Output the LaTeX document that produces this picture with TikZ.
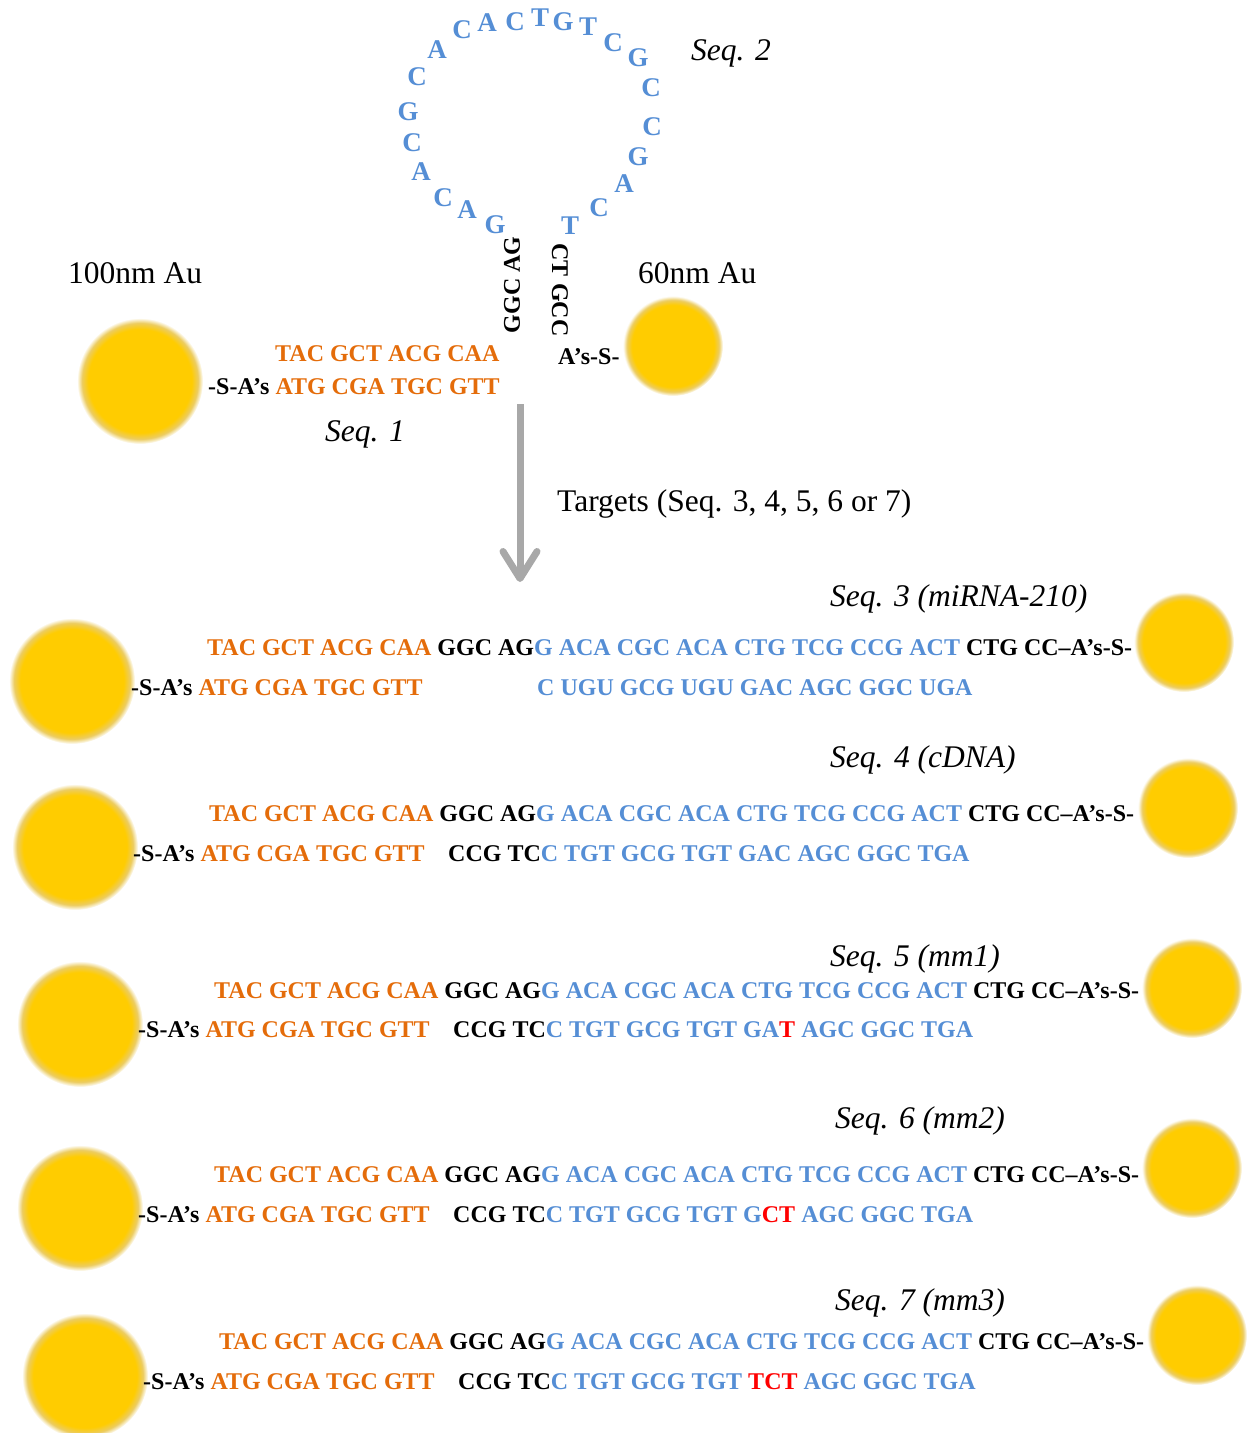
\documentclass[tikz,border=0pt]{standalone}
\usepackage{fontspec}
\setmainfont{Liberation Serif}
\usetikzlibrary{arrows.meta}

\definecolor{dnaorange}{RGB}{228,108,10}
\definecolor{dnablue}{RGB}{85,142,213}
\definecolor{dnared}{RGB}{255,0,0}
\definecolor{aucore}{RGB}{255,204,0}
\definecolor{aurim}{RGB}{236,204,96}
\definecolor{arrowgray}{RGB}{168,168,168}

% soft-edged gold nanoparticle (25bp = edge of the shaded path)
\pgfdeclareradialshading{goldball}{\pgfpoint{0bp}{0bp}}{%
  color(0bp)=(aucore);color(20.5bp)=(aucore);color(23bp)=(aurim);
  color(25bp)=(white);color(50bp)=(white)}

\newcommand\ntO[1]{\textcolor{dnaorange}{#1}}
\newcommand\ntB[1]{\textcolor{dnablue}{#1}}
\newcommand\ntR[1]{\textcolor{dnared}{#1}}

\begin{document}
\begin{tikzpicture}[x=1pt,y=-1pt,
  auball/.style={circle,shading=goldball,inner sep=0pt,draw=none},
  bigau/.style={auball,minimum size=126pt},
  smallau/.style={auball,minimum size=100pt},
  nt/.style={font=\fontsize{24}{28}\selectfont\bfseries,inner sep=0pt,anchor=base west},
  loopnt/.style={font=\fontsize{27}{30}\selectfont\bfseries,text=dnablue,inner sep=0pt},
  stemnt/.style={font=\fontsize{24}{28}\selectfont\bfseries,inner sep=0pt},
  seqlabel/.style={font=\fontsize{31.5}{36}\selectfont\itshape,inner sep=0pt,anchor=base west},
  plainlabel/.style={font=\fontsize{31.5}{36}\selectfont,inner sep=0pt,anchor=base west}]
\useasboundingbox (0,0) rectangle (1248,1433);

% ---------- probe: hairpin between two gold particles ----------
\node[bigau] (auL) at (140,381) {};
\node[smallau] (auR) at (673,346) {};
\node[plainlabel] (lab100) at (68,283) {100nm Au};
\node[plainlabel] (lab60) at (638,283) {60nm Au};
\node[seqlabel] (seq1) at (325,441) {Seq. 1};
\node[seqlabel] (seq2) at (691,60) {Seq. 2};

\node[nt,text=dnaorange] (p1top) at (275,361) {TAC GCT ACG CAA};
\node[nt] (p1bot) at (208,394) {-S-A’s \ntO{ATG CGA TGC GTT}};
\node[nt] (p2link) at (558,364) {A’s-S-};

\node[stemnt,rotate=90] (stemL) at (512,285) {GGC AG};
\node[stemnt,rotate=-90] (stemR) at (560,290) {CT GCC};

% loop bases
\node[loopnt] (l1) at (495,225) {G};
\node[loopnt] (l2) at (467,210) {A};
\node[loopnt] (l3) at (443,198) {C};
\node[loopnt] (l4) at (421,172) {A};
\node[loopnt] (l5) at (412,143) {C};
\node[loopnt] (l6) at (408,112) {G};
\node[loopnt] (l7) at (417,77) {C};
\node[loopnt] (l8) at (437,50) {A};
\node[loopnt] (l9) at (462,30) {C};
\node[loopnt] (l10) at (487,23) {A};
\node[loopnt] (l11) at (515,22) {C};
\node[loopnt] (l12) at (540,18) {T};
\node[loopnt] (l13) at (563,22) {G};
\node[loopnt] (l14) at (588,27) {T};
\node[loopnt] (l15) at (613,43) {C};
\node[loopnt] (l16) at (638,58) {G};
\node[loopnt] (l17) at (651,88) {C};
\node[loopnt] (l18) at (652,127) {C};
\node[loopnt] (l19) at (638,157) {G};
\node[loopnt] (l20) at (624,184) {A};
\node[loopnt] (l21) at (599,208) {C};
\node[loopnt] (l22) at (570,226) {T};

% ---------- arrow ----------
\coordinate (arrtop) at (520,404);
\coordinate (arrtip) at (520,582);
\draw[arrowgray,line width=7pt,
  -{Straight Barb[length=27pt,width=34pt,line cap=round,line join=round]}]
  (arrtop) -- (arrtip);
\node[plainlabel] (targets) at (557,511) {Targets (Seq. 3, 4, 5, 6 or 7)};

% ---------- Seq. 3 ----------
\node[seqlabel] (lab3) at (830,606) {Seq. 3 (miRNA-210)};
\node[bigau] (au3L) at (72,681) {};
\node[smallau] (au3R) at (1184,642) {};
\node[nt] (r3top) at (207,655) {\ntO{TAC GCT ACG CAA} GGC AG\ntB{G ACA CGC ACA CTG TCG CCG ACT} CTG CC\textendash A’s-S-};
\node[nt] (r3bot) at (131,695) {-S-A’s \ntO{ATG CGA TGC GTT}};
\node[nt,text=dnablue] (r3tgt) at (537,695) {C UGU GCG UGU GAC AGC GGC UGA};

% ---------- Seq. 4 ----------
\node[seqlabel] (lab4) at (830,767) {Seq. 4 (cDNA)};
\node[bigau] (au4L) at (75,847) {};
\node[smallau] (au4R) at (1188,808) {};
\node[nt] (r4top) at (209,821) {\ntO{TAC GCT ACG CAA} GGC AG\ntB{G ACA CGC ACA CTG TCG CCG ACT} CTG CC\textendash A’s-S-};
\node[nt] (r4bot) at (133,861) {-S-A’s \ntO{ATG CGA TGC GTT}};
\node[nt] (r4tgt) at (448,861) {CCG TC\ntB{C TGT GCG TGT GAC AGC GGC TGA}};

% ---------- Seq. 5 ----------
\node[seqlabel] (lab5) at (830,966) {Seq. 5 (mm1)};
\node[bigau] (au5L) at (80,1024) {};
\node[smallau] (au5R) at (1192,988) {};
\node[nt] (r5top) at (214,998) {\ntO{TAC GCT ACG CAA} GGC AG\ntB{G ACA CGC ACA CTG TCG CCG ACT} CTG CC\textendash A’s-S-};
\node[nt] (r5bot) at (138,1037) {-S-A’s \ntO{ATG CGA TGC GTT}};
\node[nt] (r5tgt) at (453,1037) {CCG TC\ntB{C TGT GCG TGT GA}\ntR{T} \ntB{AGC GGC TGA}};

% ---------- Seq. 6 ----------
\node[seqlabel] (lab6) at (835,1128) {Seq. 6 (mm2)};
\node[bigau] (au6L) at (80,1208) {};
\node[smallau] (au6R) at (1192,1168) {};
\node[nt] (r6top) at (214,1182) {\ntO{TAC GCT ACG CAA} GGC AG\ntB{G ACA CGC ACA CTG TCG CCG ACT} CTG CC\textendash A’s-S-};
\node[nt] (r6bot) at (138,1222) {-S-A’s \ntO{ATG CGA TGC GTT}};
\node[nt] (r6tgt) at (453,1222) {CCG TC\ntB{C TGT GCG TGT G}\ntR{CT} \ntB{AGC GGC TGA}};

% ---------- Seq. 7 ----------
\node[seqlabel] (lab7) at (835,1310) {Seq. 7 (mm3)};
\node[bigau] (au7L) at (85,1376) {};
\node[smallau] (au7R) at (1197,1335) {};
\node[nt] (r7top) at (219,1349) {\ntO{TAC GCT ACG CAA} GGC AG\ntB{G ACA CGC ACA CTG TCG CCG ACT} CTG CC\textendash A’s-S-};
\node[nt] (r7bot) at (143,1389) {-S-A’s \ntO{ATG CGA TGC GTT}};
\node[nt] (r7tgt) at (458,1389) {CCG TC\ntB{C TGT GCG TGT} \ntR{TCT} \ntB{AGC GGC TGA}};
\end{tikzpicture}
\end{document}
